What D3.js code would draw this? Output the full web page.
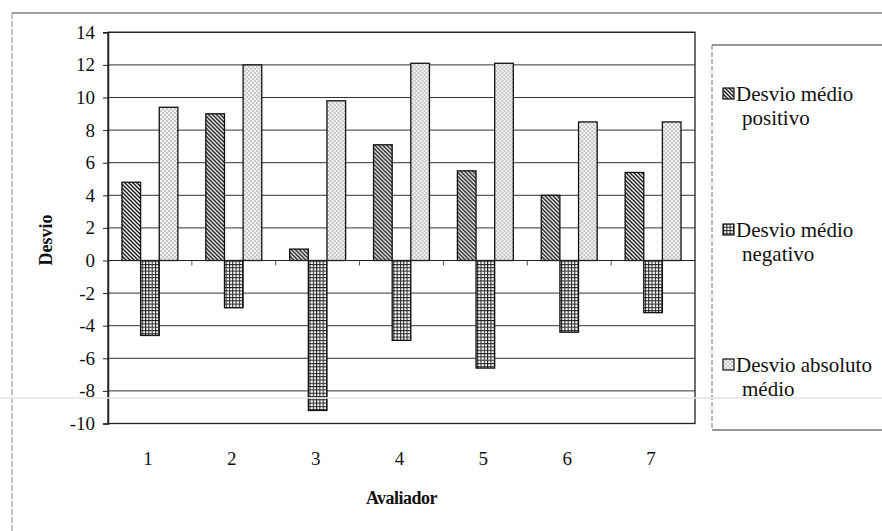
<!DOCTYPE html>
<html>
<head>
<meta charset="utf-8">
<script src="https://cdn.jsdelivr.net/npm/d3@7"></script>
<style>
  html, body { margin: 0; padding: 0; background: #fff; }
  svg { display: block; }
</style>
</head>
<body>
<svg id="chart" width="882" height="531"></svg>
<script>
// Avaliadores (categories) and the three deviation series
const avaliadores = ["1", "2", "3", "4", "5", "6", "7"];
const desvioPositivo = [4.8, 9.0, 0.7, 7.1, 5.5, 4.0, 5.4];
const desvioNegativo = [-4.6, -2.9, -9.2, -4.9, -6.6, -4.4, -3.2];
const desvioAbsoluto = [9.4, 12.0, 9.8, 12.1, 12.1, 8.5, 8.5];
const seriesNames = ["Desvio médio positivo", "Desvio médio negativo", "Desvio absoluto médio"];
const legendLines = [["Desvio médio", "positivo"], ["Desvio médio", "negativo"], ["Desvio absoluto", "médio"]];
const yTicks = [-10, -8, -6, -4, -2, 0, 2, 4, 6, 8, 10, 12, 14];

const seriesValues = [desvioPositivo, desvioNegativo, desvioAbsoluto];
const patternIds = ["hatch", "grid", "dots"];
const SERIF = "'Liberation Serif', 'Times New Roman', serif";

const svg = d3.select("#chart").attr("font-family", SERIF);
const defs = svg.append("defs");

// Diagonal hatch
const pHatch = defs.append("pattern").attr("id", "hatch")
  .attr("patternUnits", "userSpaceOnUse").attr("width", 4).attr("height", 4);
pHatch.append("rect").attr("width", 4).attr("height", 4).attr("fill", "#fff");
pHatch.append("path").attr("d", "M-1,-1L5,5M-1,3L1,5M3,-1L5,1")
  .attr("stroke", "#1a1a1a").attr("stroke-width", 1.5);

// Square grid
const pGrid = defs.append("pattern").attr("id", "grid")
  .attr("patternUnits", "userSpaceOnUse").attr("width", 3.3).attr("height", 3.3);
pGrid.append("rect").attr("width", 3.3).attr("height", 3.3).attr("fill", "#fff");
pGrid.append("path").attr("d", "M0,0.5H3.3M0.5,0V3.3")
  .attr("stroke", "#222").attr("stroke-width", 1.1);

// Light stipple
const pDots = defs.append("pattern").attr("id", "dots")
  .attr("patternUnits", "userSpaceOnUse").attr("width", 4).attr("height", 4);
pDots.append("rect").attr("width", 4).attr("height", 4).attr("fill", "#f4f4f4");
pDots.append("circle").attr("cx", 1).attr("cy", 1).attr("r", 0.8).attr("fill", "#8a8a8a");
pDots.append("circle").attr("cx", 3).attr("cy", 3).attr("r", 0.8).attr("fill", "#8a8a8a");

// Outer chart frame
svg.append("line").attr("x1", 12).attr("x2", 882).attr("y1", 13).attr("y2", 13)
  .attr("stroke", "#444").attr("stroke-width", 1.2);
svg.append("line").attr("x1", 12).attr("x2", 12).attr("y1", 13).attr("y2", 531)
  .attr("stroke", "#888").attr("stroke-width", 1).attr("stroke-dasharray", "6,2");

// Plot area
const plot = { left: 108, right: 695, top: 32.3, bottom: 423.5 };

const y = d3.scaleLinear().domain([-10, 14]).range([plot.bottom, plot.top]);
const x = d3.scaleBand().domain(avaliadores).range([plot.left, plot.right])
  .paddingInner(1 / 3).paddingOuter(1 / 6);
const xs = d3.scaleBand().domain(d3.range(seriesValues.length)).range([0, x.bandwidth()]);

// Horizontal gridlines
svg.append("g").selectAll("line").data(yTicks).join("line")
  .attr("x1", plot.left).attr("x2", plot.right)
  .attr("y1", d => y(d)).attr("y2", d => y(d))
  .attr("stroke", "#333").attr("stroke-width", 1);

// Plot border
svg.append("rect").attr("x", plot.left).attr("y", plot.top)
  .attr("width", plot.right - plot.left).attr("height", plot.bottom - plot.top)
  .attr("fill", "none").attr("stroke", "#222").attr("stroke-width", 1.3);

// Y axis
const yAxis = svg.append("g").attr("transform", `translate(${plot.left},0)`)
  .call(d3.axisLeft(y).tickValues(yTicks).tickSize(5).tickPadding(8).tickFormat(d => String(d)))
  .attr("font-family", SERIF).attr("font-size", 19);
yAxis.select(".domain").attr("stroke", "#222").attr("stroke-width", 1.5);
yAxis.selectAll(".tick line").attr("stroke", "#222");
yAxis.selectAll(".tick text").attr("fill", "#111");

// Category boundary tick marks on the zero line
const bounds = d3.range(1, avaliadores.length).map(i => plot.left + i * (plot.right - plot.left) / avaliadores.length);
svg.append("g").selectAll("line").data(bounds).join("line")
  .attr("x1", d => d).attr("x2", d => d).attr("y1", y(0)).attr("y2", y(0) + 5)
  .attr("stroke", "#555").attr("stroke-width", 1);

// Bars
const groups = svg.append("g").selectAll("g").data(avaliadores).join("g")
  .attr("transform", d => `translate(${x(d)},0)`);
groups.selectAll("rect")
  .data((d, i) => seriesValues.map((s, k) => ({ k, v: s[i] })))
  .join("rect")
  .attr("x", d => xs(d.k))
  .attr("width", xs.bandwidth())
  .attr("y", d => y(Math.max(0, d.v)))
  .attr("height", d => Math.abs(y(d.v) - y(0)))
  .attr("fill", d => `url(#${patternIds[d.k]})`)
  .attr("stroke", "#111").attr("stroke-width", 1.3);

// Zero line on top of bars
svg.append("line").attr("x1", plot.left).attr("x2", plot.right)
  .attr("y1", y(0)).attr("y2", y(0)).attr("stroke", "#222").attr("stroke-width", 1);

// X category labels
svg.append("g").selectAll("text").data(avaliadores).join("text")
  .attr("x", d => x(d) + x.bandwidth() / 2 - 2).attr("y", 465)
  .attr("text-anchor", "middle").attr("font-family", SERIF).attr("font-size", 19)
  .attr("fill", "#111").text(d => d);

// Axis titles
svg.append("text").attr("x", (plot.left + plot.right) / 2).attr("y", 504)
  .attr("text-anchor", "middle").attr("font-family", SERIF).attr("font-size", 18)
  .attr("font-weight", "bold").attr("letter-spacing", "-0.5").attr("fill", "#111").text("Avaliador");
svg.append("text").attr("transform", "translate(52,240) rotate(-90)")
  .attr("text-anchor", "middle").attr("font-family", SERIF).attr("font-size", 18)
  .attr("font-weight", "bold").attr("fill", "#111").text("Desvio");

// Legend
svg.append("line").attr("x1", 712).attr("x2", 882).attr("y1", 45).attr("y2", 45)
  .attr("stroke", "#333").attr("stroke-width", 1.2);
svg.append("line").attr("x1", 712).attr("x2", 882).attr("y1", 430).attr("y2", 430)
  .attr("stroke", "#333").attr("stroke-width", 1.2);
svg.append("line").attr("x1", 712).attr("x2", 712).attr("y1", 45).attr("y2", 430)
  .attr("stroke", "#777").attr("stroke-width", 1).attr("stroke-dasharray", "5,2");

const legendY = [94, 230, 365];
const lg = svg.append("g").selectAll("g").data(seriesNames).join("g")
  .attr("transform", (d, i) => `translate(723,${legendY[i]})`);
lg.append("rect").attr("x", 0).attr("y", -6).attr("width", 11).attr("height", 11)
  .attr("fill", (d, i) => `url(#${patternIds[i]})`).attr("stroke", "#111").attr("stroke-width", 1.2);
lg.append("text").attr("x", 13).attr("y", 7).attr("font-family", SERIF).attr("font-size", 21)
  .attr("fill", "#111").text((d, i) => legendLines[i][0]);
lg.append("text").attr("x", 19).attr("y", 31).attr("font-family", SERIF).attr("font-size", 21)
  .attr("fill", "#111").text((d, i) => legendLines[i][1]);

// Faint scan line across the sheet
svg.append("line").attr("x1", 0).attr("x2", 882).attr("y1", 398).attr("y2", 398)
  .attr("stroke", "#e4e4e4").attr("stroke-width", 1.5);
</script>
</body>
</html>
